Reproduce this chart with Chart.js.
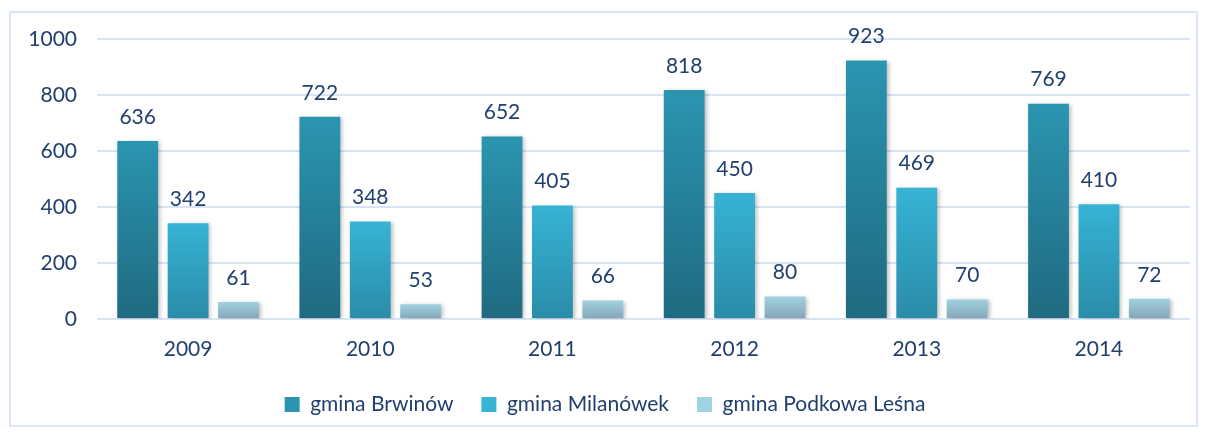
<!DOCTYPE html>
<html>
<head>
<meta charset="utf-8">
<script src="https://cdn.jsdelivr.net/npm/chart.js@4/dist/chart.umd.min.js"></script>
<style>
  body { margin: 0; background: #fff; }
  #wrap { position: relative; width: 1205px; height: 432px; }
  #frame { position: absolute; left: 9px; top: 11px; width: 1189px; height: 416px; border: 2px solid #dbe7f5; box-sizing: border-box; }
  canvas { position: absolute; left: 0; top: 0; }
</style>
</head>
<body>
<div id="wrap">
  <div id="frame"></div>
  <canvas id="chart" width="1205" height="432"></canvas>
</div>
<script>
// years and values per gmina
const years = ["2009", "2010", "2011", "2012", "2013", "2014"];
const brwinow = [636, 722, 652, 818, 923, 769];
const milanowek = [342, 348, 405, 450, 469, 410];
const podkowa = [61, 53, 66, 80, 70, 72];
const seriesNames = ["gmina Brwinów", "gmina Milanówek", "gmina Podkowa Leśna"];

const textColor = "#22406f";
const fontFamily = "Lato, 'Open Sans', sans-serif";

// top / bottom colours of each bar gradient
const shades = [
  ["#2b95b0", "#1f6a80"],
  ["#37b3d5", "#2a8ca9"],
  ["#9fd2e3", "#86a5b5"],
];

// every bar gets its own top-to-bottom gradient
function gradientFor(i) {
  return function (context) {
    const chart = context.chart;
    const y = chart.scales.y;
    if (!chart.chartArea || !y || context.raw == null) return shades[i][0];
    const top = y.getPixelForValue(context.raw);
    const bottom = y.getPixelForValue(0);
    const g = chart.ctx.createLinearGradient(0, top, 0, bottom);
    g.addColorStop(0, shades[i][0]);
    g.addColorStop(1, shades[i][1]);
    return g;
  };
}

// value labels above the bars
const valueLabels = {
  id: "valueLabels",
  afterDatasetsDraw(chart) {
    const ctx = chart.ctx;
    ctx.save();
    ctx.fillStyle = textColor;
    ctx.font = "21px " + fontFamily;
    ctx.textAlign = "center";
    ctx.textBaseline = "middle";
    chart.data.datasets.forEach((ds, i) => {
      chart.getDatasetMeta(i).data.forEach((bar, j) => {
        ctx.fillText(ds.data[j], bar.x, bar.y - 24);
      });
    });
    ctx.restore();
  },
};

// soft shadow under bars
const barShadow = {
  id: "barShadow",
  beforeDatasetsDraw(chart) {
    chart.ctx.save();
    chart.ctx.shadowColor = "rgba(0,0,0,0.25)";
    chart.ctx.shadowBlur = 4;
    chart.ctx.shadowOffsetX = 2;
    chart.ctx.shadowOffsetY = 1;
  },
  afterDatasetsDraw(chart) {
    chart.ctx.restore();
  },
};

const data = {
  labels: years,
  datasets: [brwinow, milanowek, podkowa].map((vals, i) => ({
    label: seriesNames[i],
    data: vals,
    backgroundColor: gradientFor(i),
    borderWidth: 0,
    categoryPercentage: 0.83,
    barPercentage: 0.81,
  })),
};

const config = {
  type: "bar",
  data: data,
  plugins: [barShadow, valueLabels],
  options: {
    responsive: false,
    animation: false,
    layout: {
      padding: { left: 20, right: 15, top: 39, bottom: 7 },
    },
    scales: {
      x: {
        grid: { display: false, drawTicks: false },
        border: { display: false },
        ticks: { color: textColor, font: { family: fontFamily, size: 21 }, padding: 18 },
        afterFit(scale) { scale.height = 47; },
      },
      y: {
        min: 0,
        max: 1000,
        grid: { color: "#d6e4f4", lineWidth: 2, drawTicks: false },
        border: { display: false },
        ticks: {
          stepSize: 200,
          color: textColor,
          font: { family: fontFamily, size: 21 },
          padding: 20,
          callback: (v) => String(v),
        },
        afterFit(scale) { scale.width = 77; },
      },
    },
    plugins: {
      tooltip: { enabled: false },
      legend: {
        position: "bottom",
        labels: {
          color: textColor,
          font: { family: fontFamily, size: 21 },
          boxWidth: 15,
          boxHeight: 15,
          padding: 28,
          generateLabels(chart) {
            return chart.data.datasets.map((ds, i) => ({
              text: ds.label,
              fillStyle: shades[i][0],
              strokeStyle: shades[i][0],
              lineWidth: 0,
              fontColor: textColor,
              datasetIndex: i,
            }));
          },
        },
      },
    },
  },
};

new Chart(document.getElementById("chart").getContext("2d"), config);
</script>
</body>
</html>
